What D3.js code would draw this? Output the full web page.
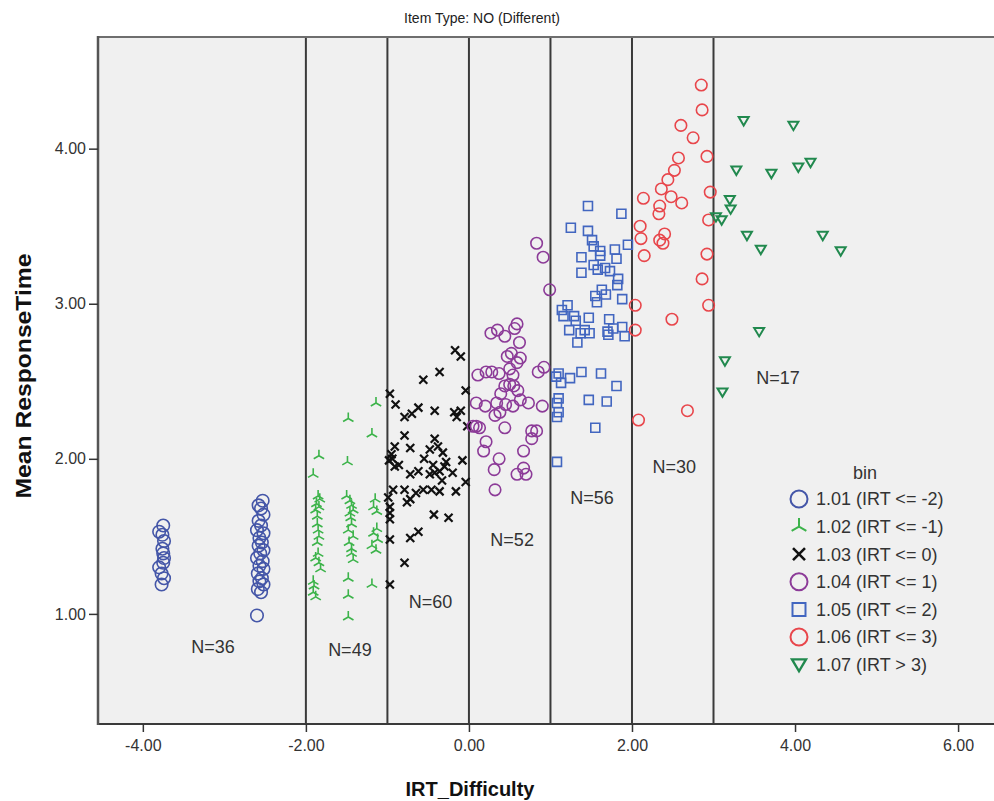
<!DOCTYPE html>
<html>
<head>
<meta charset="utf-8">
<script src="https://cdn.jsdelivr.net/npm/d3@7"></script>
<style>
  body { margin: 0; background: #fff; }
  svg { display: block; }
  text { font-family: "Liberation Sans", Arial, sans-serif; }
</style>
</head>
<body>
<div id="chart"></div>
<script>
// data: [IRT_Difficulty, Mean ResponseTime]
const bin1Points = [
  [-3.75,1.57],[-3.80,1.53],[-3.76,1.51],[-3.74,1.47],[-3.76,1.42],[-3.75,1.39],[-3.74,1.36],[-3.75,1.33],
  [-3.80,1.30],[-3.77,1.26],[-3.74,1.23],[-3.77,1.19],
  [-2.53,1.73],[-2.58,1.70],[-2.55,1.68],[-2.52,1.64],[-2.58,1.60],[-2.55,1.57],[-2.60,1.54],[-2.52,1.52],
  [-2.57,1.49],[-2.54,1.46],[-2.58,1.44],[-2.52,1.41],[-2.56,1.39],[-2.60,1.36],[-2.53,1.34],[-2.57,1.31],
  [-2.52,1.29],[-2.59,1.26],[-2.54,1.23],[-2.57,1.21],[-2.52,1.19],[-2.59,1.16],[-2.55,1.14],[-2.60,0.99]
];
const bin2Points = [
  [-1.14,2.36],[-1.48,2.26],[-1.19,2.16],[-1.84,2.02],[-1.49,1.98],[-1.91,1.90],
  [-1.85,1.76],[-1.83,1.74],[-1.87,1.71],[-1.84,1.69],[-1.88,1.67],[-1.86,1.63],[-1.85,1.54],[-1.84,1.50],
  [-1.86,1.46],[-1.85,1.39],[-1.88,1.36],[-1.84,1.33],[-1.82,1.29],[-1.91,1.21],[-1.90,1.18],[-1.91,1.14],
  [-1.88,1.11],
  [-1.50,1.76],[-1.46,1.73],[-1.44,1.70],[-1.42,1.67],[-1.46,1.65],[-1.44,1.58],[-1.48,1.54],[-1.42,1.50],
  [-1.47,1.46],[-1.44,1.42],[-1.44,1.39],[-1.42,1.35],[-1.48,1.23],[-1.48,1.12],[-1.48,0.98],
  [-1.15,1.74],[-1.17,1.69],[-1.13,1.66],[-1.13,1.55],[-1.17,1.52],[-1.12,1.48],[-1.19,1.44],[-1.14,1.41],
  [-1.19,1.19],[-1.86,1.58],[-1.45,1.62]
];
const bin3Points = [
  [-0.17,2.70],[-0.10,2.66],[-0.36,2.56],[-0.56,2.51],[-0.97,2.42],[-0.04,2.44],[-0.90,2.35],[-0.79,2.27],
  [-0.70,2.29],[-0.62,2.33],[-0.42,2.31],[-0.18,2.30],[-0.15,2.27],[-0.02,2.21],[-0.79,2.15],[-0.91,2.08],
  [-0.72,2.07],[-0.42,2.13],[-0.48,2.06],[-0.38,2.08],[-0.32,2.04],[-0.98,1.99],[-0.94,2.00],[-0.91,1.95],
  [-0.28,1.98],[-0.08,1.99],[-0.72,1.90],[-0.62,1.92],[-0.48,1.90],[-0.42,1.91],[-0.36,1.92],[-0.20,1.91],
  [-0.93,1.80],[-0.79,1.80],[-0.56,1.80],[-0.46,1.80],[-0.36,1.79],[-0.16,1.79],[-0.04,1.85],[-0.76,1.72],
  [-0.72,1.74],[-0.97,1.69],[-0.97,1.65],[-0.97,1.61],[-0.43,1.64],[-0.25,1.62],[-0.72,1.49],[-0.62,1.53],
  [-0.97,1.48],[-0.79,1.33],[-0.97,1.19],[-0.95,2.03],[-0.86,1.96],[-0.55,2.00],[-0.33,1.86],[-0.30,1.95],
  [-0.10,2.31],[-0.65,1.78],[-0.99,1.75],[-0.44,1.96]
];
const bin4Points = [
  [0.99,3.09],[0.59,2.87],[0.27,2.81],[0.35,2.83],[0.44,2.79],[0.56,2.84],[0.62,2.75],[0.52,2.68],
  [0.63,2.65],[0.59,2.62],[0.50,2.58],[0.11,2.54],[0.21,2.56],[0.37,2.55],[0.54,2.54],[0.85,2.56],
  [0.92,2.59],[0.50,2.48],[0.55,2.47],[0.39,2.42],[0.09,2.36],[0.20,2.34],[0.34,2.36],[0.45,2.35],
  [0.54,2.34],[0.63,2.38],[0.73,2.36],[0.90,2.34],[0.32,2.28],[0.38,2.30],[0.09,2.21],[0.13,2.20],
  [0.44,2.20],[0.77,2.18],[0.83,2.18],[0.77,2.13],[0.21,2.11],[0.18,2.05],[0.67,2.05],[0.37,2.00],
  [0.31,1.93],[0.67,1.94],[0.59,1.90],[0.70,1.90],[0.32,1.80],[0.83,3.39],[0.91,3.30],[0.05,2.21],
  [0.47,2.66],[0.60,2.44],[0.28,2.56],[0.44,2.47]
];
const bin5Points = [
  [1.46,3.63],[1.87,3.58],[1.25,3.49],[1.46,3.47],[1.51,3.41],[1.53,3.37],[1.95,3.38],[1.79,3.35],
  [1.61,3.34],[1.61,3.31],[1.38,3.30],[1.81,3.29],[1.53,3.25],[1.58,3.22],[1.67,3.23],[1.38,3.20],
  [1.73,3.21],[1.83,3.16],[1.82,3.12],[1.63,3.09],[1.68,3.06],[1.55,3.05],[1.88,3.03],[1.57,3.01],
  [1.21,2.99],[1.14,2.96],[1.16,2.92],[1.29,2.92],[1.47,2.91],[1.31,2.89],[1.72,2.90],[1.88,2.85],
  [1.23,2.83],[1.42,2.83],[1.70,2.82],[1.77,2.84],[1.37,2.81],[1.91,2.79],[1.48,2.81],[1.71,2.80],
  [1.33,2.75],[1.10,2.55],[1.38,2.56],[1.62,2.55],[1.13,2.49],[1.24,2.52],[1.81,2.47],[1.10,2.39],
  [1.47,2.38],[1.69,2.37],[1.08,2.36],[1.10,2.30],[1.08,2.27],[1.55,2.20],[1.08,1.98],[1.07,2.53]
];
const bin6Points = [
  [2.85,4.41],[2.86,4.25],[2.60,4.15],[2.75,4.07],[2.92,3.95],[2.57,3.94],[2.52,3.86],[2.44,3.80],
  [2.36,3.74],[2.96,3.72],[2.14,3.68],[2.48,3.69],[2.61,3.65],[2.34,3.63],[2.33,3.58],[2.94,3.54],
  [2.10,3.50],[2.11,3.42],[2.40,3.45],[2.34,3.41],[2.38,3.39],[2.15,3.31],[2.92,3.32],[2.86,3.16],
  [2.94,2.99],[2.04,2.99],[2.49,2.90],[2.04,2.83],[2.68,2.31],[2.08,2.25]
];
const bin7Points = [
  [3.37,4.18],[3.98,4.15],[3.28,3.86],[3.71,3.84],[4.04,3.88],[4.19,3.91],[3.20,3.67],[3.21,3.61],
  [3.10,3.54],[3.03,3.56],[3.41,3.44],[4.34,3.44],[3.58,3.35],[4.56,3.34],[3.56,2.82],[3.14,2.63],
  [3.11,2.43]
];

const binLabels = ["1.01 (IRT <= -2)", "1.02 (IRT <= -1)", "1.03 (IRT <= 0)", "1.04 (IRT <= 1)",
                   "1.05 (IRT <= 2)", "1.06 (IRT <= 3)", "1.07 (IRT > 3)"];
const binCounts = [36, 49, 60, 52, 56, 30, 17];
// where the N= labels sit, in data units
const countLabelX = [-3.14, -1.46, -0.47, 0.53, 1.51, 2.52, 3.79];
const countLabelY = [0.79, 0.77, 1.08, 1.48, 1.75, 1.95, 2.52];
const binEdges = [-2, -1, 0, 1, 2, 3];
const xTicks = [-4, -2, 0, 2, 4, 6];
const yTicks = [1, 2, 3, 4];

const allBins = [bin1Points, bin2Points, bin3Points, bin4Points, bin5Points, bin6Points, bin7Points];

// marker shapes, size = area as in d3.symbol
const ringType = { draw(ctx, size) { const r = Math.sqrt(size) / 2; ctx.moveTo(r, 0); ctx.arc(0, 0, r, 0, 2 * Math.PI); } };
const starType = { draw(ctx, size) {
  const r = Math.sqrt(size) / 2;
  ctx.moveTo(0, 0); ctx.lineTo(0, -r);
  ctx.moveTo(0, 0); ctx.lineTo(-r * 0.866, r * 0.5);
  ctx.moveTo(0, 0); ctx.lineTo(r * 0.866, r * 0.5);
} };
const crossType = { draw(ctx, size) {
  const r = Math.sqrt(size) / 2;
  ctx.moveTo(-r, -r); ctx.lineTo(r, r);
  ctx.moveTo(-r, r); ctx.lineTo(r, -r);
} };
const boxType = { draw(ctx, size) { const r = Math.sqrt(size) / 2; ctx.rect(-r, -r, 2 * r, 2 * r); } };
const triDownType = { draw(ctx, size) {
  const r = Math.sqrt(size) / 2;
  ctx.moveTo(-r, -r * 0.75); ctx.lineTo(r, -r * 0.75); ctx.lineTo(0, r * 0.95); ctx.closePath();
} };

const binStyles = [
  { type: ringType,    color: "#4456a8", size: 12.5, width: 1.6, legend: 17 },
  { type: starType,    color: "#3cb34a", size: 12,   width: 1.6, legend: 17 },
  { type: crossType,   color: "#111111", size: 8,    width: 2.2, legend: 12 },
  { type: ringType,    color: "#8c3b98", size: 11.5, width: 1.6, legend: 17 },
  { type: boxType,     color: "#4266c0", size: 9,    width: 1.6, legend: 13 },
  { type: ringType,    color: "#e8464b", size: 11.5, width: 1.6, legend: 17 },
  { type: triDownType, color: "#21894e", size: 10,   width: 2.0, legend: 14 }
];

const W = 994, H = 801;
const plot = { left: 98, top: 37, right: 1007, bottom: 724 };

const svg = d3.select("#chart")
  .append("svg")
  .attr("width", W)
  .attr("height", H);

const x = d3.scaleLinear()
  .domain([-4.55, 6.6])
  .range([plot.left, plot.right]);
const y = d3.scaleLinear()
  .domain([0.29, 4.72])
  .range([plot.bottom, plot.top]);

// plot background
svg.append("rect")
  .attr("x", plot.left)
  .attr("y", plot.top)
  .attr("width", plot.right - plot.left)
  .attr("height", plot.bottom - plot.top)
  .attr("fill", "#f0f0f0");

// bin boundaries
svg.selectAll(".edge")
  .data(binEdges)
  .enter().append("line")
  .attr("class", "edge")
  .attr("x1", d => x(d))
  .attr("x2", d => x(d))
  .attr("y1", plot.top)
  .attr("y2", plot.bottom)
  .attr("stroke", "#3a3a3a")
  .attr("stroke-width", 2);

// frame
svg.append("line")
  .attr("x1", plot.left).attr("x2", plot.right)
  .attr("y1", plot.top).attr("y2", plot.top)
  .attr("stroke", "#6e6e6e").attr("stroke-width", 2);
svg.append("line")
  .attr("x1", plot.left).attr("x2", plot.right)
  .attr("y1", plot.bottom).attr("y2", plot.bottom)
  .attr("stroke", "#3a3a3a").attr("stroke-width", 2);
svg.append("line")
  .attr("x1", plot.left).attr("x2", plot.left)
  .attr("y1", plot.top - 1).attr("y2", plot.bottom + 1)
  .attr("stroke", "#555").attr("stroke-width", 2.5);

// axes
const xAxis = svg.append("g")
  .attr("transform", "translate(0," + plot.bottom + ")")
  .call(d3.axisBottom(x).tickValues(xTicks).tickFormat(d => d.toFixed(2)).tickSize(8).tickPadding(8));
const yAxis = svg.append("g")
  .attr("transform", "translate(" + plot.left + ",0)")
  .call(d3.axisLeft(y).tickValues(yTicks).tickFormat(d => d.toFixed(2)).tickSize(9).tickPadding(3));
[xAxis, yAxis].forEach(g => {
  g.select(".domain").remove();
  g.selectAll(".tick line").attr("stroke", "#333").attr("stroke-width", 1.5);
  g.selectAll(".tick text")
    .attr("fill", "#333")
    .style("font-size", "16px")
    .style("font-family", "'Liberation Sans', Arial, sans-serif");
});

// points
allBins.forEach((pts, i) => {
  const st = binStyles[i];
  const sym = d3.symbol().type(st.type).size(st.size * st.size);
  svg.append("g")
    .selectAll("path")
    .data(pts)
    .enter().append("path")
    .attr("transform", d => "translate(" + x(d[0]) + "," + y(d[1]) + ")")
    .attr("d", sym)
    .attr("fill", "none")
    .attr("stroke", st.color)
    .attr("stroke-width", st.width);
});

// N= labels
svg.selectAll(".nlab")
  .data(binCounts)
  .enter().append("text")
  .attr("class", "nlab")
  .attr("x", (d, i) => x(countLabelX[i]))
  .attr("y", (d, i) => y(countLabelY[i]))
  .attr("dy", "0.35em")
  .attr("text-anchor", "middle")
  .attr("fill", "#333")
  .style("font-size", "18px")
  .text(d => "N=" + d);

// legend
const legend = svg.append("g");
legend.append("text")
  .attr("x", 865)
  .attr("y", 479)
  .attr("text-anchor", "middle")
  .attr("fill", "#333")
  .style("font-size", "18px")
  .text("bin");
const rows = legend.selectAll(".row")
  .data(binLabels)
  .enter().append("g")
  .attr("class", "row")
  .attr("transform", (d, i) => "translate(799," + (499 + i * 27.6) + ")");
rows.append("path")
  .attr("d", (d, i) => d3.symbol().type(binStyles[i].type).size(binStyles[i].legend * binStyles[i].legend)())
  .attr("fill", "none")
  .attr("stroke", (d, i) => binStyles[i].color)
  .attr("stroke-width", (d, i) => binStyles[i].width + 0.4);
rows.append("text")
  .attr("x", 17)
  .attr("dy", "0.36em")
  .attr("fill", "#333")
  .style("font-size", "18px")
  .text(d => d);

// titles
svg.append("text")
  .attr("x", 482)
  .attr("y", 23)
  .attr("text-anchor", "middle")
  .attr("fill", "#222")
  .style("font-size", "14px")
  .text("Item Type: NO (Different)");

svg.append("text")
  .attr("x", 470)
  .attr("y", 796)
  .attr("text-anchor", "middle")
  .attr("fill", "#111")
  .style("font-size", "20px")
  .style("font-weight", "bold")
  .text("IRT_Difficulty");

svg.append("text")
  .attr("transform", "translate(31,376) rotate(-90)")
  .attr("text-anchor", "middle")
  .attr("fill", "#111")
  .style("font-size", "22px")
  .style("font-weight", "bold")
  .attr("textLength", 245)
  .attr("lengthAdjust", "spacingAndGlyphs")
  .text("Mean ResponseTime");
</script>
</body>
</html>
